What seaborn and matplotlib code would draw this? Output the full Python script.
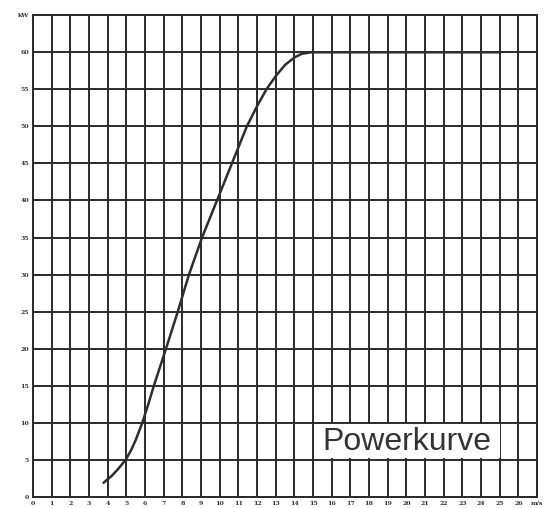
import pandas as pd
import matplotlib
matplotlib.use("Agg")
import matplotlib.pyplot as plt
import seaborn as sns
from matplotlib.patches import Rectangle

# Werte
wind = [3.77, 4.2, 4.5, 4.96, 5.25, 5.5, 5.85, 6.17, 6.47, 7.12, 7.75, 8.35,
        9.05, 9.85, 10.65, 11.45, 11.95, 12.5, 13.0, 13.5, 14.0, 14.4, 14.9,
        16, 18, 20, 22, 25]
leistung = [1.9, 2.8, 3.6, 5.0, 6.3, 7.7, 10.0, 12.5, 15.0, 20.0, 25.0, 30.0,
            35.0, 40.0, 45.0, 50.0, 52.5, 55.0, 56.8, 58.3, 59.3, 59.8, 60.0,
            60, 60, 60, 60, 60]

x_ticks = list(range(0, 28))
x_labels = [str(i) for i in range(0, 27)] + ['m/s']
y_ticks = list(range(0, 70, 5))
y_labels = [str(i) for i in range(0, 65, 5)] + ['kW']

df = pd.DataFrame({'v': wind, 'P': leistung})

sns.set_theme(style="white")
fig = plt.figure(figsize=(5.52, 5.08), dpi=100)
ax = fig.add_axes([0.06, 0.022, 0.913, 0.948])

sns.lineplot(data=df, x='v', y='P', ax=ax, color='#2e2e2e', linewidth=1.8,
             zorder=3, sort=False)

ax.set_xlim(0, 27)
ax.set_ylim(0, 65)
ax.set_xticks(x_ticks)
ax.set_xticklabels(x_labels, fontsize=4.5, fontweight='bold', family='DejaVu Serif', color='#333333')
ax.set_yticks(y_ticks)
ax.set_yticklabels(y_labels, fontsize=4.5, fontweight='bold', family='DejaVu Serif', color='#333333')
ax.tick_params(length=0, pad=3)
ax.grid(True, color='#2a2a2a', linewidth=1.4)
ax.set_axisbelow(True)
for s in ax.spines.values():
    s.set_color('#2a2a2a')
    s.set_linewidth(1.4)
ax.set_xlabel('')
ax.set_ylabel('')

# weisses Feld fuer die Beschriftung
ax.add_patch(Rectangle((15.2, 5.2), 9.8, 4.6, facecolor='white', edgecolor='none', zorder=2))
ax.text(20.05, 7.45, 'Powerkurve', fontsize=23, family='Liberation Sans', color='#333333',
        ha='center', va='center', zorder=4)

fig.savefig('out.png', dpi=100)
